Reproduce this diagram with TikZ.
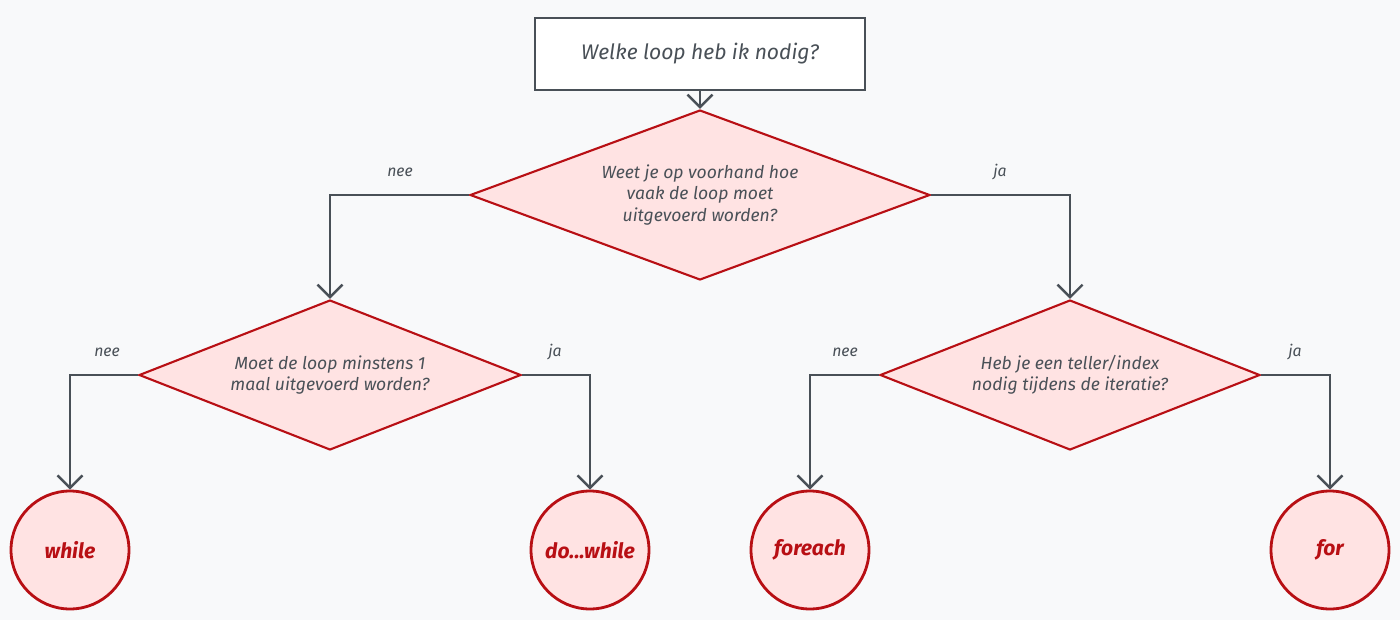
\documentclass[tikz,border=0pt]{standalone}
\usepackage{fontspec}
\setmainfont{Fira Sans}
\usetikzlibrary{shapes.geometric, arrows.meta}
\definecolor{bgcol}{HTML}{F8F9FA}
\definecolor{redline}{HTML}{B80F14}
\definecolor{redfill}{HTML}{FFE3E3}
\definecolor{greyline}{HTML}{495057}
\tikzset{
    question/.style={diamond, draw=redline, fill=redfill, line width=1.2pt,
        inner sep=0pt, align=center, font=\itshape, text=greyline}, % decision
    answer/.style={circle, draw=redline, fill=redfill, line width=1.6pt,
        minimum size=2.36cm, inner sep=0pt, font=\bfseries\itshape\large, text=redline},
    link/.style={draw=greyline, line width=1.4pt, -{Straight Barb[length=2.5mm]}},
    choice/.style={font=\itshape\small, text=greyline},
}
\begin{document}
\begin{tikzpicture}[x=0.02cm, y=-0.02cm]
    \fill[bgcol] (0,0) rectangle (1400,620);
    \node[draw=greyline, fill=white, line width=1.2pt, minimum width=6.6cm,
        minimum height=1.44cm, font=\itshape\large, text=greyline] (start) at (700,54) {Welke loop heb ik nodig?};
    \node[question, aspect=2.7, minimum width=9.2cm, minimum height=3.4cm] (times) at (700,195)
        {Weet je op voorhand hoe\\vaak de loop moet\\uitgevoerd worden?};
    \node[question, aspect=2.55, minimum width=7.64cm, minimum height=3cm] (once) at (330,375)
        {Moet de loop minstens 1\\maal uitgevoerd worden?};
    \node[question, aspect=2.55, minimum width=7.6cm, minimum height=3cm] (index) at (1070,375)
        {Heb je een teller/index\\nodig tijdens de iteratie?};
    \node[answer] (while) at (70,550) {while};
    \node[answer] (dowhile) at (590,550) {do...while};
    \node[answer] (foreach) at (810,550) {foreach};
    \node[answer] (for) at (1330,550) {for};

    \draw[link] (start) -- (times);
    \draw[link] (times.west) -| (once.north);
    \draw[link] (times.east) -| (index.north);
    \draw[link] (once.west) -| (while.north);
    \draw[link] (once.east) -| (dowhile.north);
    \draw[link] (index.west) -| (foreach.north);
    \draw[link] (index.east) -| (for.north);

    \node[choice] at (400,172) {nee};
    \node[choice] at (1000,172) {ja};
    \node[choice] at (107,352) {nee};
    \node[choice] at (555,352) {ja};
    \node[choice] at (845,352) {nee};
    \node[choice] at (1295,352) {ja};
\end{tikzpicture}
\end{document}
